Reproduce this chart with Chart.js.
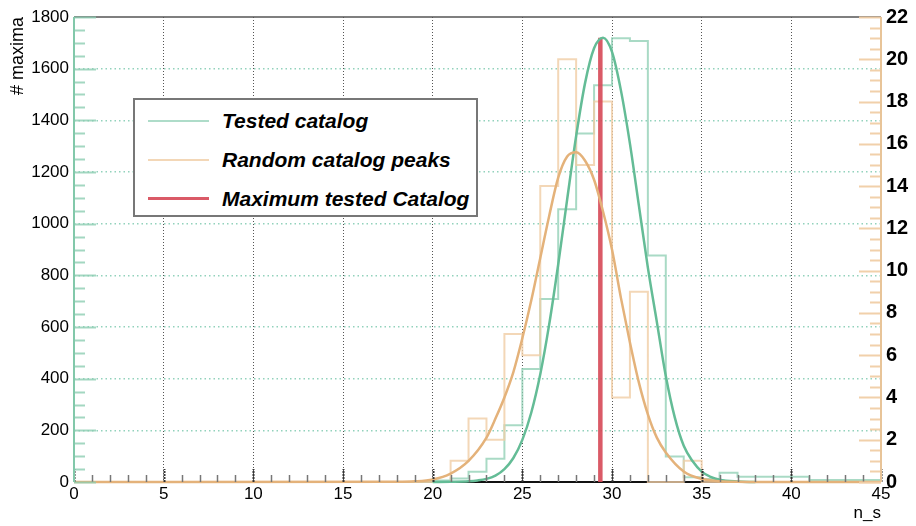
<!DOCTYPE html>
<html>
<head>
<meta charset="utf-8">
<title>n_s maxima</title>
<script src="https://cdn.jsdelivr.net/npm/chart.js@4/dist/chart.umd.min.js"></script>
<style>
    html, body { margin: 0; padding: 0; background: #fff; }
    #wrap { position: relative; width: 916px; height: 526px; }
    #legend {
        position: absolute; left: 133px; top: 98px; width: 341px; height: 115px;
        border: 2px solid #777; background: #fff;
        font: italic bold 21px "Liberation Sans", Arial, sans-serif; color: #000;
    }
    #legend .row { position: absolute; left: 0; height: 30px; width: 100%; }
    #legend .swatch { position: absolute; left: 13px; width: 61px; top: 50%; }
    #legend .label { position: absolute; left: 87px; top: 50%; transform: translateY(-52%); white-space: nowrap; }
</style>
</head>
<body>
<div id="wrap">
    <canvas id="chart" width="916" height="526"></canvas>
    <div id="legend"></div>
</div>
<script>
// Histogram bins: bin i covers [binEdges[i], binEdges[i+1]]
const binEdges = [0, 1, 2, 3, 4, 5, 6, 7, 8, 9, 10, 11, 12, 13, 14, 15, 16, 17, 18, 19, 20,
    21, 22, 23, 24, 25, 26, 27, 28, 29, 30, 31, 32, 33, 34, 35, 36, 37, 38, 39, 40, 41, 42, 43, 44, 45];

// Tested catalog counts (left axis)
const testedCounts = [0, 0, 0, 0, 0, 0, 0, 0, 0, 0, 0, 0, 0, 0, 0, 0, 0, 0, 0, 0,
    6, 14, 40, 90, 220, 437, 708, 1056, 1349, 1536, 1718, 1707, 877, 99, 18, 12, 36,
    20, 20, 20, 20, 8, 8, 8, 8];

// Random catalog peaks counts (right axis)
const randomCounts = [0, 0, 0, 0, 0, 0, 0, 0, 0, 0, 0, 0, 0, 0, 0, 0, 0, 0, 0, 0,
    0, 1, 3, 2, 7, 6, 14, 20, 15, 18, 4, 9, 0, 0, 1, 0, 0,
    0, 0, 0, 0, 0, 0, 0, 0];

// Fitted curve for the tested catalog (left axis)
const testedFitX = [20, 21, 22, 22.5, 23, 23.5, 24, 24.5, 25, 25.5, 26, 26.5, 27, 27.5, 28, 28.5,
    29, 29.5, 30, 30.5, 31, 31.5, 32, 32.5, 33, 33.5, 34, 34.5, 35, 35.5, 36, 37, 38];
const testedFitY = [0, 1, 3, 6, 12, 25, 50, 93, 163, 269, 417, 611, 842, 1094, 1339, 1545,
    1679, 1720, 1665, 1515, 1310, 1070, 830, 620, 410, 250, 140, 80, 40, 20, 9, 2, 0];

// Fitted curve for the random catalog (right axis)
const randomFitX = [0, 18, 19, 20, 21, 22, 23, 23.5, 24, 24.5, 25, 25.5, 26, 26.5, 27, 27.5, 28,
    28.5, 29, 29.5, 30, 30.5, 31, 31.5, 32, 32.5, 33, 34, 35, 36, 37, 38, 45];
const randomFitY = [0, 0.01, 0.03, 0.12, 0.4, 1.0, 2.1, 3.0, 4.0, 5.2, 6.8, 8.6, 10.6, 12.6, 14.4, 15.4, 15.6,
    15.2, 14.3, 12.8, 11.0, 8.7, 6.6, 4.7, 3.2, 2.1, 1.4, 0.5, 0.15, 0.04, 0.01, 0, 0];

// Maximum of the tested catalog (vertical marker)
const maxTestedX = 29.35;
const maxTestedY = [0, 1720];

const seriesLabels = ['Tested catalog', 'Random catalog peaks', 'Maximum tested Catalog'];

const GREEN_HIST = 'rgba(140, 205, 178, 0.75)';
const GREEN_FIT = 'rgb(100, 188, 150)';
const ORANGE_HIST = 'rgba(240, 205, 165, 0.8)';
const ORANGE_FIT = 'rgb(228, 178, 122)';
const RED = 'rgba(214, 72, 86, 0.9)';
const FONT = '"Liberation Sans", Arial, Helvetica, sans-serif';

// Turn bin counts into step outline points
function histPoints(counts) {
    const pts = counts.map((c, i) => ({ x: binEdges[i], y: c }));
    pts.push({ x: binEdges[binEdges.length - 1], y: counts[counts.length - 1] });
    return pts;
}

function zipPoints(xs, ys) {
    return xs.map((x, i) => ({ x: x, y: ys[i] }));
}

// Frame, axis lines and inward ticks (ROOT style)
const frameTicks = {
    id: 'frameTicks',
    beforeDatasetsDraw(chart) {
        const { ctx, chartArea: a } = chart;
        ctx.save();
        ctx.lineWidth = 1.5;
        ctx.strokeStyle = '#555';
        ctx.beginPath(); ctx.moveTo(a.left, a.top); ctx.lineTo(a.right, a.top); ctx.stroke();
        ctx.lineWidth = 2;
        ctx.strokeStyle = '#111';
        ctx.beginPath(); ctx.moveTo(a.left, a.bottom); ctx.lineTo(a.right, a.bottom); ctx.stroke();
        ctx.restore();
    },
    afterDatasetsDraw(chart) {
        const { ctx, chartArea: a, scales } = chart;
        const x = scales.x, y = scales.y, y1 = scales.y1;
        ctx.save();
        // bottom ticks
        for (let v = 0; v <= 45; v++) {
            const px = Math.round(x.getPixelForValue(v)) + 0.5;
            const major = v % 5 === 0;
            ctx.lineWidth = major ? 2 : 1.5;
            ctx.strokeStyle = major ? '#333' : '#777';
            ctx.setLineDash(major ? [2, 1] : []);
            ctx.beginPath();
            ctx.moveTo(px, a.bottom);
            ctx.lineTo(px, a.bottom - (major ? 13 : 7));
            ctx.stroke();
        }
        ctx.setLineDash([]);
        // left ticks
        ctx.strokeStyle = 'rgba(140, 205, 178, 0.8)';
        ctx.lineWidth = 2;
        for (let v = 0; v <= 1800; v += 50) {
            const py = Math.round(y.getPixelForValue(v)) + 0.5;
            const major = v % 200 === 0;
            ctx.beginPath();
            ctx.moveTo(a.left, py);
            ctx.lineTo(a.left + (major ? 22 : 11), py);
            ctx.stroke();
        }
        // right ticks
        ctx.strokeStyle = 'rgba(240, 205, 165, 0.95)';
        for (let v = 0; v <= 22; v += 0.5) {
            const py = Math.round(y1.getPixelForValue(v)) + 0.5;
            const major = v % 2 === 0;
            ctx.beginPath();
            ctx.moveTo(a.right, py);
            ctx.lineTo(a.right - (major ? 22 : 11), py);
            ctx.stroke();
        }
        // side axis lines
        ctx.lineWidth = 2;
        ctx.strokeStyle = 'rgb(130, 200, 170)';
        ctx.beginPath(); ctx.moveTo(a.left, a.top); ctx.lineTo(a.left, a.bottom); ctx.stroke();
        ctx.strokeStyle = 'rgb(232, 196, 152)';
        ctx.beginPath(); ctx.moveTo(a.right, a.top); ctx.lineTo(a.right, a.bottom); ctx.stroke();
        ctx.restore();
    }
};

document.addEventListener('DOMContentLoaded', function() {
    const ctx = document.getElementById('chart');

    new Chart(ctx, {
        type: 'line',
        data: {
            datasets: [
                {
                    label: seriesLabels[0],
                    data: histPoints(testedCounts),
                    stepped: 'before',
                    borderColor: GREEN_HIST,
                    borderWidth: 2,
                    pointRadius: 0,
                    yAxisID: 'y',
                    order: 5,
                    clip: 4
                },
                {
                    label: seriesLabels[1],
                    data: histPoints(randomCounts),
                    stepped: 'before',
                    borderColor: ORANGE_HIST,
                    borderWidth: 2,
                    pointRadius: 0,
                    yAxisID: 'y1',
                    order: 4,
                    clip: 4
                },
                {
                    label: seriesLabels[2],
                    data: maxTestedY.map(v => ({ x: maxTestedX, y: v })),
                    borderColor: RED,
                    borderWidth: 4.5,
                    pointRadius: 0,
                    yAxisID: 'y',
                    order: 3,
                    clip: 4
                },
                {
                    label: 'Tested fit',
                    data: zipPoints(testedFitX, testedFitY),
                    borderColor: GREEN_FIT,
                    borderWidth: 2.5,
                    pointRadius: 0,
                    cubicInterpolationMode: 'monotone',
                    yAxisID: 'y',
                    order: 2,
                    clip: 4
                },
                {
                    label: 'Random fit',
                    data: zipPoints(randomFitX, randomFitY),
                    borderColor: ORANGE_FIT,
                    borderWidth: 2.5,
                    pointRadius: 0,
                    cubicInterpolationMode: 'monotone',
                    yAxisID: 'y1',
                    order: 1,
                    clip: 4
                }
            ]
        },
        options: {
            responsive: false,
            animation: false,
            devicePixelRatio: 1,
            layout: { padding: { top: 11, left: 0, right: 0, bottom: 0 } },
            plugins: {
                legend: { display: false },
                tooltip: { enabled: false }
            },
            scales: {
                x: {
                    type: 'linear',
                    min: 0,
                    max: 45,
                    afterFit: function(scale) { scale.height = 44; },
                    ticks: {
                        stepSize: 5,
                        autoSkip: false,
                        maxRotation: 0,
                        padding: 2,
                        color: '#000',
                        font: { family: FONT, size: 17 },
                        callback: function(value) { return String(value); }
                    },
                    grid: {
                        drawTicks: false,
                        lineWidth: 1,
                        color: function(c) {
                            const v = c.tick && c.tick.value;
                            return (v === 0 || v === 45) ? 'rgba(0,0,0,0)' : '#555';
                        }
                    },
                    border: { display: false, dash: [1, 2] },
                    title: {
                        display: true,
                        text: 'n_s',
                        align: 'end',
                        color: '#000',
                        padding: { top: 0, bottom: 2 },
                        font: { family: FONT, size: 17 }
                    }
                },
                y: {
                    position: 'left',
                    min: 0,
                    max: 1800,
                    afterFit: function(scale) { scale.width = 74; },
                    ticks: {
                        stepSize: 200,
                        autoSkip: false,
                        padding: 5,
                        color: '#000',
                        font: { family: FONT, size: 17 },
                        callback: function(value) { return String(value); }
                    },
                    grid: {
                        drawTicks: false,
                        lineWidth: 1.5,
                        color: function(c) {
                            const v = c.tick && c.tick.value;
                            return (v === 0 || v === 1800) ? 'rgba(0,0,0,0)' : 'rgba(110, 195, 165, 0.75)';
                        }
                    },
                    border: { display: false, dash: [1.5, 3] },
                    title: {
                        display: true,
                        text: '# maxima',
                        align: 'end',
                        color: '#000',
                        padding: { top: 7, bottom: 0 },
                        font: { family: FONT, size: 18 }
                    }
                },
                y1: {
                    position: 'right',
                    min: 0,
                    max: 22,
                    afterFit: function(scale) { scale.width = 35; },
                    ticks: {
                        stepSize: 2,
                        autoSkip: false,
                        padding: 5,
                        color: '#000',
                        font: { family: FONT, size: 20, weight: 'bold' }
                    },
                    grid: { display: false, drawTicks: false },
                    border: { display: false }
                }
            }
        },
        plugins: [frameTicks]
    });

    // Legend box drawn as HTML so its labels stay real text
    const legendColors = [
        { color: 'rgba(140, 205, 178, 0.7)', width: 2 },
        { color: 'rgba(240, 205, 165, 0.8)', width: 2 },
        { color: RED, width: 3.5 }
    ];
    const rowCenters = [21, 60, 99];
    const legend = document.getElementById('legend');
    seriesLabels.forEach((text, i) => {
        const row = document.createElement('div');
        row.className = 'row';
        row.style.top = (rowCenters[i] - 15) + 'px';
        const sw = document.createElement('div');
        sw.className = 'swatch';
        sw.style.borderTop = legendColors[i].width + 'px solid ' + legendColors[i].color;
        sw.style.marginTop = (-legendColors[i].width / 2) + 'px';
        const lb = document.createElement('div');
        lb.className = 'label';
        lb.textContent = text;
        row.appendChild(sw);
        row.appendChild(lb);
        legend.appendChild(row);
    });
});
</script>
</body>
</html>
